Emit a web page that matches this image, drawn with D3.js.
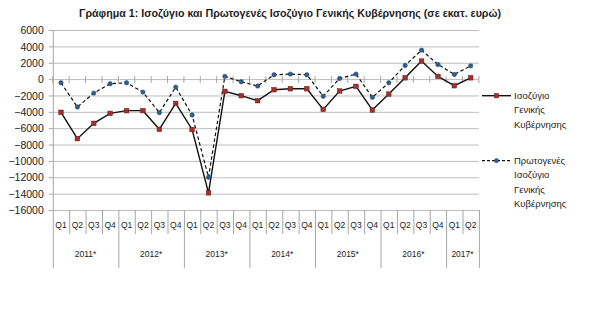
<!DOCTYPE html>
<html>
<head>
<meta charset="utf-8">
<script src="https://cdn.jsdelivr.net/npm/d3@7"></script>
<style>
  html, body { margin: 0; padding: 0; background: #fff; }
  svg { display: block; font-family: "Liberation Sans", Arial, sans-serif; }
</style>
</head>
<body>
<svg id="chart" width="600" height="323"></svg>
<script>
const title = "Γράφημα 1: Ισοζύγιο και Πρωτογενές Ισοζύγιο Γενικής Κυβέρνησης (σε εκατ. ευρώ)";
const years = ["2011*", "2012*", "2013*", "2014*", "2015*", "2016*", "2017*"];
const quartersPerYear = [4, 4, 4, 4, 4, 4, 2];
const quarterLabels = ["Q1", "Q2", "Q3", "Q4"];
const seriesNames = ["Ισοζύγιο Γενικής Κυβέρνησης", "Πρωτογενές Ισοζύγιο Γενικής Κυβέρνησης"];
const balance = [
  -4060, -7280, -5410, -4190,
  -3860, -3860, -6140, -2970,
  -6160, -13900, -1500, -2030,
  -2640, -1300, -1180, -1180,
  -3700, -1460, -890, -3780,
  -1830, 160, 2200, 330,
  -810, 160
];
const primary = [
  -450, -3410, -1710, -570,
  -450, -1590, -4100, -980,
  -4390, -12000, 330, -330,
  -850, 530, 610, 530,
  -2100, 80, 610, -2230,
  -450, 1670, 3540, 1790,
  570, 1620
];
const yTicks = [6000, 4000, 2000, 0, -2000, -4000, -6000, -8000, -10000, -12000, -14000, -16000];

// build category keys
const cats = [];
years.forEach((yr, yi) => {
  for (let q = 0; q < quartersPerYear[yi]; q++) cats.push({ key: yr + "|" + quarterLabels[q], year: yr, q: quarterLabels[q] });
});
const keys = cats.map(c => c.key);

const svg = d3.select("#chart");
const L = 52.8, R = 478.9, T = 30, B = 210;

const x = d3.scaleBand().domain(keys).range([L, R]).padding(0);
const y = d3.scaleLinear().domain([-16000, 6000]).range([B, T]);
const cx = k => x(k) + x.bandwidth() / 2;

// title
svg.append("text")
  .attr("x", 290).attr("y", 17)
  .attr("text-anchor", "middle")
  .attr("font-size", 11).attr("font-weight", "bold").attr("fill", "#222")
  .attr("textLength", 422).attr("lengthAdjust", "spacingAndGlyphs")
  .text(title);

// gridlines
svg.append("g").selectAll("line").data(yTicks).join("line")
  .attr("x1", L).attr("x2", R)
  .attr("y1", d => y(d) + 0.5).attr("y2", d => y(d) + 0.5)
  .attr("stroke", "#bcbcbc").attr("stroke-width", 1);

// y axis
const yAxis = svg.append("g").attr("transform", `translate(${L},0)`)
  .call(d3.axisLeft(y).tickValues(yTicks).tickSize(4).tickPadding(5).tickFormat(d3.format("d")));
yAxis.select(".domain").attr("stroke", "#a6a6a6");
yAxis.selectAll(".tick line").attr("stroke", "#a6a6a6");
yAxis.selectAll(".tick text").attr("font-size", 10.5).attr("fill", "#222")
  .attr("font-family", "Liberation Sans, Arial, sans-serif").attr("dy", "0.35em");

// horizontal axis line at zero with crossing tick marks
const y0 = y(0) + 0.5;
const bounds = keys.map(k => x(k)).concat([x.range()[1]]);
svg.append("g").selectAll("line").data(bounds).join("line")
  .attr("x1", d => d).attr("x2", d => d)
  .attr("y1", y0 - 3.5).attr("y2", y0 + 3.5)
  .attr("stroke", "#a6a6a6");

// bottom multi-level category labels
const xAxis = svg.append("g").attr("transform", `translate(0,${B})`)
  .call(d3.axisBottom(x).tickSize(0).tickPadding(12).tickFormat(k => k.split("|")[1]));
xAxis.select(".domain").remove();
xAxis.selectAll(".tick text").attr("font-size", 8.5).attr("fill", "#222")
  .attr("font-family", "Liberation Sans, Arial, sans-serif");

// dividers
let idx = 0;
const yearStarts = [];
quartersPerYear.forEach(n => { yearStarts.push(idx); idx += n; });
const dividerData = bounds.map((b, i) => ({ x: b, long: yearStarts.includes(i) || i === keys.length }));
svg.append("g").selectAll("line").data(dividerData).join("line")
  .attr("x1", d => d.x + 0.5).attr("x2", d => d.x + 0.5)
  .attr("y1", B).attr("y2", d => d.long ? 268 : 234)
  .attr("stroke", "#a6a6a6");

// year labels
const yearData = years.map((yr, i) => {
  const first = keys[yearStarts[i]];
  const last = keys[yearStarts[i] + quartersPerYear[i] - 1];
  return { yr, mid: (x(first) + x(last) + x.bandwidth()) / 2 };
});
svg.append("g").selectAll("text").data(yearData).join("text")
  .attr("x", d => d.mid).attr("y", 257)
  .attr("text-anchor", "middle").attr("font-size", 8.5).attr("fill", "#222")
  .text(d => d.yr);

// lines
const lineGen = d3.line().x((d, i) => cx(keys[i])).y(d => y(d));
svg.append("path").datum(primary).attr("d", lineGen)
  .attr("fill", "none").attr("stroke", "#111").attr("stroke-width", 1.2).attr("stroke-dasharray", "3.5,2.5");
svg.append("path").datum(balance).attr("d", lineGen)
  .attr("fill", "none").attr("stroke", "#111").attr("stroke-width", 1.4);

// markers
svg.append("g").selectAll("rect").data(balance).join("rect")
  .attr("x", (d, i) => cx(keys[i]) - 2.3).attr("y", d => y(d) - 2.3)
  .attr("width", 4.6).attr("height", 4.6)
  .attr("fill", "#a3302b").attr("stroke", "#6e1d1a").attr("stroke-width", 0.5);
svg.append("g").selectAll("circle").data(primary).join("circle")
  .attr("cx", (d, i) => cx(keys[i])).attr("cy", d => y(d))
  .attr("r", 2.2).attr("fill", "#2f5f8f").attr("stroke", "#1d3e60").attr("stroke-width", 0.5);

// legend
const legend = svg.append("g");
const lg1 = 95.7, lg2 = 160.7;
legend.append("line").attr("x1", 482).attr("x2", 511).attr("y1", lg1).attr("y2", lg1)
  .attr("stroke", "#111").attr("stroke-width", 1.4);
legend.append("rect").attr("x", 496.5 - 2.2).attr("y", lg1 - 2.2).attr("width", 4.4).attr("height", 4.4)
  .attr("fill", "#a3302b").attr("stroke", "#6e1d1a").attr("stroke-width", 0.5);
legend.append("line").attr("x1", 482).attr("x2", 511).attr("y1", lg2).attr("y2", lg2)
  .attr("stroke", "#111").attr("stroke-width", 1.2).attr("stroke-dasharray", "3,2");
legend.append("circle").attr("cx", 496.5).attr("cy", lg2).attr("r", 2.1)
  .attr("fill", "#2f5f8f").attr("stroke", "#1d3e60").attr("stroke-width", 0.5);

const leg1Lines = ["Ισοζύγιο", "Γενικής", "Κυβέρνησης"];
const leg2Lines = ["Πρωτογενές", "Ισοζύγιο", "Γενικής", "Κυβέρνησης"];
legend.append("g").selectAll("text").data(leg1Lines).join("text")
  .attr("x", 514).attr("y", (d, i) => lg1 + i * 14.3).attr("dy", "0.35em")
  .attr("font-size", 9.5).attr("fill", "#222").text(d => d);
legend.append("g").selectAll("text").data(leg2Lines).join("text")
  .attr("x", 514).attr("y", (d, i) => lg2 + i * 14.3).attr("dy", "0.35em")
  .attr("font-size", 9.5).attr("fill", "#222").text(d => d);
</script>
</body>
</html>
